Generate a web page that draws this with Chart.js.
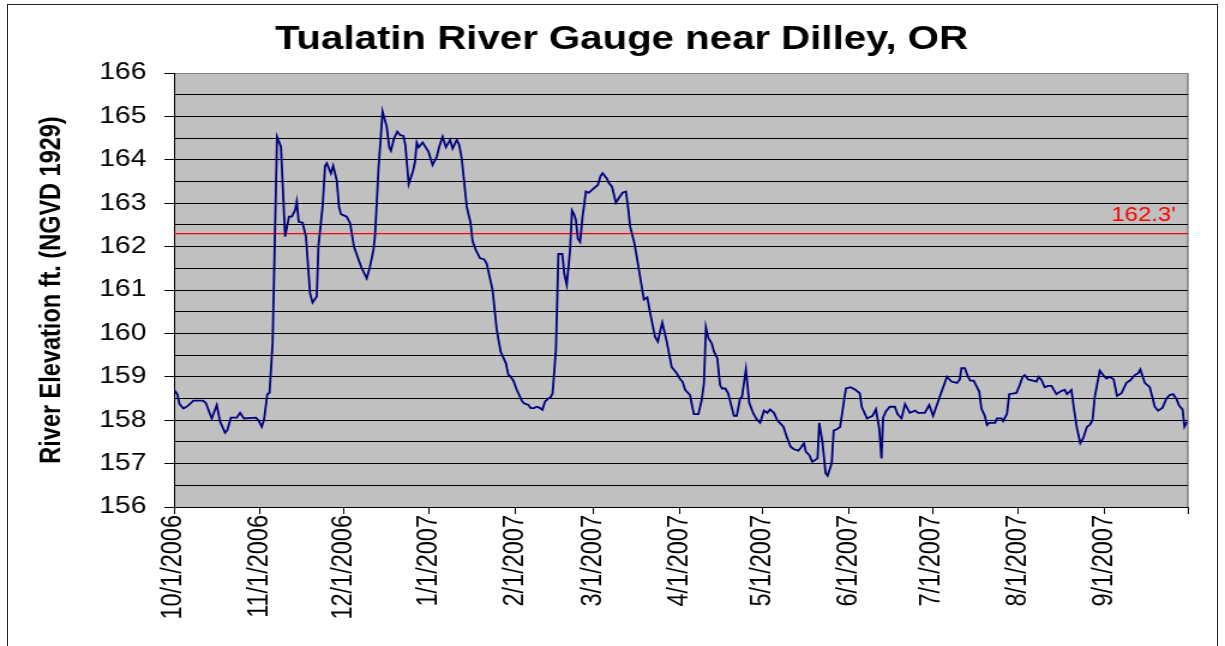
<!DOCTYPE html>
<html>
<head>
<meta charset="utf-8">
<script src="https://cdn.jsdelivr.net/npm/chart.js@4/dist/chart.umd.min.js"></script>
<style>
    html, body { margin: 0; padding: 0; background: #fff; overflow: hidden; }
    #wrap { position: relative; width: 1225px; height: 646px; }
    #frame { position: absolute; left: 7px; top: 4px; width: 1209px; height: 700px; border: 1px solid #222; }
    #c { position: absolute; left: 0; top: 0; display: block; }
</style>
</head>
<body>
<div id="wrap">
    <div id="frame"></div>
    <!-- le graphe est dessine etroit puis etire en largeur, comme l'image d'origine -->
    <canvas id="c" width="1021" height="646" style="width:1225px;height:646px"></canvas>
</div>
<script>
// jours depuis le 10/1/2006 et hauteur de la riviere (ft)
const days = [0, 1.2, 2, 3.4, 5, 7, 10.5, 11.5, 13.6, 15.4, 16.6, 18.4, 19.2, 20.5, 22.6, 23.8, 25.2, 29.5, 30.4, 31.6,
    32.4, 33.6, 34.4, 35.5, 37.1, 38.5, 40, 41.4, 42.4, 43.6, 44.2, 44.9, 46.3, 47.5, 49, 49.9, 51.4, 52, 53.5, 54.4,
    55, 56.5, 57.3, 58.6, 59.4, 60.1, 60.7, 62.2, 63.4, 64.8, 66.4, 67.6, 69.4, 70.6, 71.8, 72.4, 73.6, 75.1, 76.6, 77.5,
    78.1, 79.2, 80.4, 81.4, 82.6, 83.3, 84.5, 86, 86.8, 87.4, 88.1, 89.5, 91.6, 93.1, 94.6, 95.5, 96.7, 97.9, 99.4, 100.3,
    101.8, 102.7, 103.6, 105.4, 106.8, 107.5, 108.7, 110.2, 111.6, 112.6, 114.7, 116.2, 117.6, 119.5, 120.4, 121, 122.2, 123.4, 125.2, 126,
    127.6, 128.4, 129.6, 130.6, 131.5, 132.6, 133.6, 134.8, 135.6, 136.3, 137.5, 138.4, 139.8, 140.5, 141.4, 142.6, 143.3, 144, 144.7, 145.4,
    146.2, 147.1, 148.3, 149.3, 150.7, 152.6, 153.6, 154.3, 155.8, 156.5, 157.7, 159.1, 160.3, 161.5, 162.7, 163.6, 164.2, 165.8, 166.6, 168.4,
    169.2, 170.4, 171.4, 173.2, 174.2, 175, 175.8, 177.4, 179.2, 181, 182.4, 183.1, 184, 185.8, 186.6, 187.2, 188.8, 190, 190.8, 191.5,
    192.4, 193.6, 194.4, 195.6, 196.6, 197.3, 198.5, 199.5, 201.6, 202.6, 203.8, 204.5, 205.9, 207.1, 208.6, 209.8, 211, 212.4, 213.6, 214.6,
    216, 217.2, 219.4, 220.6, 222, 223.2, 224.8, 225.6, 226.8, 227.5, 228.7, 229.8, 231.7, 232.3, 233.5, 234.6, 235.3, 236.8, 237.5, 238.6,
    239.8, 241, 241.9, 243.6, 245.3, 246.9, 247.6, 249.5, 251.5, 252.7, 253.9, 254.7, 255.3, 256.3, 257.7, 259.5, 260.5, 261.9, 263.2, 264.9,
    266.8, 267.9, 270.3, 271.9, 273.3, 275.7, 278.3, 279.9, 281.9, 282.9, 283.5, 284.7, 285.9, 286.7, 287.9, 289.9, 290.7, 291.9, 292.7, 293.5,
    295.6, 296.3, 297.9, 298.5, 299.9, 300.7, 303.3, 304.5, 305.5, 306.3, 307.5, 309.9, 310.5, 311.3, 312.3, 313.5, 314.7, 315.9, 317.7, 319.1,
    320.7, 321.5, 323.1, 323.9, 325.1, 326.3, 327.3, 328.7, 329.7, 330.7, 331.5, 333.3, 334.5, 335.7, 336.9, 338.3, 339.5, 341.1, 342.9, 344.3,
    345.9, 347.1, 347.9, 349.5, 351.3, 353.1, 354.3, 355.9, 357.3, 358.5, 359.7, 360.9, 361.9, 363.1, 363.8, 364.7];

const elevation = [158.70, 158.60, 158.37, 158.27, 158.33, 158.45, 158.45, 158.39, 158.04, 158.35, 157.97, 157.71, 157.77, 158.06, 158.06, 158.17, 158.04, 158.06, 158.00, 157.85,
    158.00, 158.60, 158.63, 159.77, 164.53, 164.30, 162.23, 162.69, 162.69, 162.84, 163.04, 162.57, 162.55, 162.23, 160.92, 160.71, 160.85, 162.00, 162.92, 163.86,
    163.92, 163.69, 163.86, 163.53, 162.92, 162.75, 162.73, 162.69, 162.54, 162.00, 161.71, 161.50, 161.27, 161.55, 161.92, 162.27, 163.76, 165.11, 164.76, 164.29,
    164.21, 164.49, 164.65, 164.57, 164.55, 164.34, 163.44, 163.73, 163.96, 164.40, 164.29, 164.40, 164.19, 163.88, 164.07, 164.30, 164.53, 164.29, 164.46, 164.26,
    164.46, 164.34, 164.03, 162.92, 162.54, 162.12, 161.92, 161.73, 161.71, 161.61, 161.00, 160.08, 159.58, 159.31, 159.04, 159.02, 158.91, 158.70, 158.45, 158.39,
    158.35, 158.28, 158.28, 158.31, 158.29, 158.24, 158.43, 158.50, 158.53, 158.62, 159.62, 161.83, 161.83, 161.38, 161.12, 161.92, 162.83, 162.75, 162.61, 162.18,
    162.11, 162.69, 163.27, 163.24, 163.32, 163.42, 163.63, 163.69, 163.57, 163.47, 163.38, 163.01, 163.13, 163.24, 163.27, 162.84, 162.47, 162.07, 161.77, 161.08,
    160.78, 160.83, 160.48, 159.92, 159.81, 160.04, 160.25, 159.81, 159.22, 159.08, 158.93, 158.89, 158.70, 158.58, 158.31, 158.14, 158.14, 158.47, 158.85, 160.14,
    159.89, 159.77, 159.58, 159.43, 158.81, 158.73, 158.73, 158.62, 158.10, 158.10, 158.50, 158.54, 159.17, 158.40, 158.15, 158.02, 157.94, 158.22, 158.17, 158.25,
    158.17, 158.00, 157.85, 157.62, 157.39, 157.33, 157.30, 157.36, 157.47, 157.27, 157.20, 157.04, 157.12, 157.94, 157.47, 156.78, 156.72, 157.01, 157.76, 157.79,
    157.84, 158.35, 158.73, 158.76, 158.70, 158.62, 158.31, 158.04, 158.10, 158.25, 157.81, 157.12, 158.06, 158.20, 158.31, 158.31, 158.14, 158.04, 158.37, 158.17,
    158.22, 158.17, 158.17, 158.35, 158.10, 158.54, 159.00, 158.89, 158.86, 158.94, 159.20, 159.20, 159.00, 158.91, 158.91, 158.66, 158.27, 158.10, 157.89, 157.94,
    157.94, 158.04, 158.04, 157.98, 158.15, 158.60, 158.63, 158.81, 159.00, 159.04, 158.94, 158.90, 158.89, 159.00, 158.93, 158.76, 158.79, 158.79, 158.60, 158.66,
    158.70, 158.60, 158.70, 158.31, 157.81, 157.47, 157.58, 157.85, 157.89, 158.00, 158.54, 159.14, 159.04, 158.96, 159.00, 158.94, 158.56, 158.62, 158.86, 158.92,
    159.04, 159.08, 159.17, 158.86, 158.76, 158.31, 158.22, 158.29, 158.50, 158.58, 158.60, 158.49, 158.33, 158.25, 157.85, 157.96];

// debut de chaque mois (axe x)
const tickDays = [0, 31, 61, 92, 123, 151, 182, 212, 243, 273, 304, 335, 365];
const tickLabels = ['10/1/2006', '11/1/2006', '12/1/2006', '1/1/2007', '2/1/2007', '3/1/2007', '4/1/2007',
    '5/1/2007', '6/1/2007', '7/1/2007', '8/1/2007', '9/1/2007', ''];

const floodStage = 162.3;
const titleText = 'Tualatin River Gauge near Dilley, OR';
const axisTitle = 'River Elevation ft. (NGVD 1929)';

const FONT = '"Liberation Sans", Arial, sans-serif';

// fond gris + texte du titre et de la ligne rouge
const chartDecor = {
    id: 'chartDecor',
    beforeDraw(chart) {
        const { ctx, chartArea: a } = chart;
        ctx.save();
        ctx.fillStyle = '#C0C0C0';
        ctx.fillRect(a.left, a.top, a.right - a.left, a.bottom - a.top);
        ctx.strokeStyle = '#808080';
        ctx.lineWidth = 1.5;
        ctx.beginPath();
        ctx.moveTo(a.right, a.top);
        ctx.lineTo(a.right, a.bottom);
        ctx.stroke();
        ctx.restore();
    },
    afterDraw(chart) {
        const { ctx, chartArea: a } = chart;
        const y = chart.scales.y.getPixelForValue(floodStage);
        ctx.save();
        ctx.fillStyle = '#000';
        ctx.font = 'bold 33.5px ' + FONT;
        ctx.textAlign = 'center';
        ctx.textBaseline = 'alphabetic';
        ctx.fillText(titleText, 518, 49);

        ctx.fillStyle = '#FF0000';
        ctx.font = '20px ' + FONT;
        ctx.textAlign = 'right';
        ctx.fillText(floodStage + "'", a.right - 10, y - 13);
        ctx.restore();
    }
};

const points = days.map((d, i) => ({ x: d, y: elevation[i] }));

new Chart(document.getElementById('c'), {
    type: 'line',
    data: {
        datasets: [{
            data: points,
            borderColor: '#000080',
            borderWidth: 1.8,
            pointRadius: 0,
            tension: 0
        }, {
            data: [{ x: 0, y: floodStage }, { x: 365, y: floodStage }],
            borderColor: '#FF0000',
            borderWidth: 1.4,
            pointRadius: 0
        }]
    },
    options: {
        responsive: false,
        devicePixelRatio: 1,
        animation: false,
        layout: { padding: { left: 8, right: 31, top: 73, bottom: 0 } },
        plugins: {
            legend: { display: false },
            tooltip: { enabled: false }
        },
        scales: {
            x: {
                type: 'linear',
                min: 0,
                max: 365,
                afterBuildTicks: (scale) => { scale.ticks = tickDays.map(v => ({ value: v })); },
                afterFit: (scale) => { scale.height = 139; },
                ticks: {
                    autoSkip: false,
                    minRotation: 90,
                    maxRotation: 90,
                    padding: 1,
                    color: '#000',
                    font: { family: FONT, size: 23.5 },
                    callback: (v) => tickLabels[tickDays.indexOf(v)]
                },
                grid: { drawOnChartArea: false, tickLength: 7, tickColor: '#000' },
                border: { color: '#000', width: 1 }
            },
            y: {
                min: 156,
                max: 166,
                afterFit: (scale) => { scale.width = 137; },
                ticks: {
                    stepSize: 0.5,
                    autoSkip: false,
                    padding: 15,
                    color: '#000',
                    font: { family: FONT, size: 23.5 },
                    callback: (v) => (v % 1 === 0 ? v : '')
                },
                grid: {
                    color: (c) => (c.tick && c.tick.value === 166 ? '#808080' : '#000'),
                    tickLength: 8,
                    tickColor: (c) => (c.tick && c.tick.value % 1 === 0 ? '#000' : 'rgba(0,0,0,0)')
                },
                border: { color: '#000', width: 1 },
                title: {
                    display: true,
                    text: axisTitle,
                    color: '#000',
                    padding: { top: 21, bottom: 0 },
                    font: { family: FONT, size: 23.5, weight: 'bold' }
                }
            }
        }
    },
    plugins: [chartDecor]
});
</script>
</body>
</html>
